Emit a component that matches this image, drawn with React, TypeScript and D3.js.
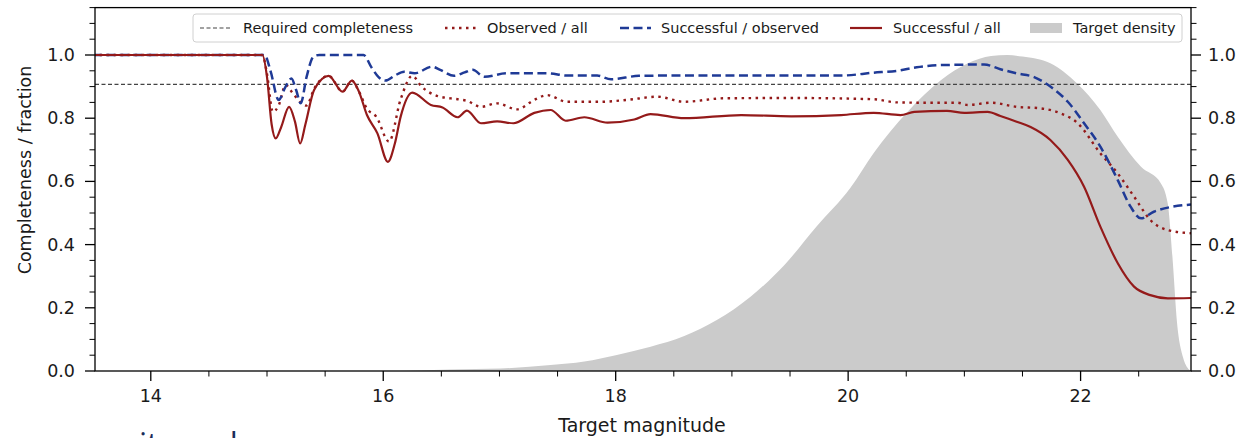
import React from "react";
import * as d3 from "d3";

// Completeness curves versus target magnitude: [magnitude, fraction]
const observedAll: [number, number][] = [
  [13.5, 1.0], [14.96, 1.0], [15.0, 0.94], [15.05, 0.82], [15.1, 0.84], [15.16, 0.905],
  [15.22, 0.88], [15.29, 0.85], [15.34, 0.84], [15.405, 0.893], [15.53, 0.934],
  [15.65, 0.884], [15.73, 0.919], [15.79, 0.885], [15.86, 0.83], [15.94, 0.805],
  [16.05, 0.726], [16.15, 0.86], [16.25, 0.934], [16.33, 0.9], [16.47, 0.87],
  [16.64, 0.86], [16.72, 0.855], [16.84, 0.836], [16.98, 0.847], [17.15, 0.828],
  [17.3, 0.858], [17.41, 0.873], [17.58, 0.852], [17.87, 0.852], [18.1, 0.858],
  [18.36, 0.868], [18.59, 0.852], [18.93, 0.863], [19.5, 0.864], [20.22, 0.86],
  [20.42, 0.85], [20.65, 0.849], [20.94, 0.849], [21.03, 0.842], [21.23, 0.849],
  [21.45, 0.836], [21.66, 0.831], [21.83, 0.815], [21.97, 0.786], [22.17, 0.689],
  [22.32, 0.625], [22.46, 0.552], [22.6, 0.478], [22.75, 0.446], [22.95, 0.436],
];

const successfulObserved: [number, number][] = [
  [13.5, 1.0], [14.98, 1.0], [15.03, 0.95], [15.1, 0.858], [15.16, 0.9], [15.21, 0.926],
  [15.25, 0.89], [15.29, 0.847], [15.34, 0.93], [15.4, 0.995], [15.45, 1.0],
  [15.83, 1.0], [15.9, 0.96], [15.96, 0.93], [16.02, 0.919], [16.1, 0.935],
  [16.18, 0.947], [16.27, 0.942], [16.42, 0.963], [16.49, 0.953], [16.61, 0.934],
  [16.7, 0.945], [16.77, 0.953], [16.87, 0.931], [17.06, 0.942], [17.42, 0.942],
  [17.58, 0.935], [17.84, 0.935], [17.96, 0.923], [18.2, 0.934], [18.5, 0.935],
  [19.94, 0.935], [20.22, 0.944], [20.42, 0.95], [20.59, 0.961], [20.8, 0.968],
  [21.17, 0.97], [21.31, 0.955], [21.45, 0.942], [21.6, 0.93], [21.74, 0.9],
  [21.89, 0.852], [22.03, 0.784], [22.17, 0.71], [22.32, 0.604], [22.43, 0.52],
  [22.52, 0.483], [22.63, 0.504], [22.95, 0.527],
];

const successfulAll: [number, number][] = [
  [13.5, 1.0], [14.96, 1.0], [15.0, 0.93], [15.04, 0.78], [15.075, 0.736], [15.12, 0.77],
  [15.19, 0.836], [15.24, 0.79], [15.285, 0.72], [15.33, 0.78], [15.405, 0.889],
  [15.53, 0.934], [15.65, 0.884], [15.73, 0.919], [15.79, 0.885], [15.86, 0.81],
  [15.95, 0.752], [16.04, 0.662], [16.1, 0.72], [16.15, 0.805], [16.25, 0.881],
  [16.41, 0.842], [16.51, 0.834], [16.64, 0.803], [16.72, 0.824], [16.84, 0.784],
  [16.98, 0.79], [17.12, 0.784], [17.3, 0.817], [17.44, 0.826], [17.57, 0.792],
  [17.73, 0.803], [17.93, 0.786], [18.16, 0.796], [18.3, 0.813], [18.59, 0.8],
  [19.08, 0.81], [19.51, 0.806], [19.94, 0.81], [20.22, 0.817], [20.45, 0.81],
  [20.57, 0.82], [20.85, 0.823], [21.0, 0.817], [21.2, 0.82], [21.31, 0.807],
  [21.45, 0.789], [21.57, 0.772], [21.74, 0.731], [21.89, 0.668], [22.03, 0.583],
  [22.17, 0.457], [22.32, 0.341], [22.46, 0.267], [22.6, 0.24], [22.75, 0.23],
  [22.95, 0.231],
];

// Normalised target density (peak = 1)
const targetDensity: [number, number][] = [
  [13.5, 0], [16.0, 0], [16.58, 0.005], [17.01, 0.008], [17.44, 0.019], [17.73, 0.03],
  [18.01, 0.051], [18.3, 0.077], [18.59, 0.111], [18.87, 0.161], [19.16, 0.235],
  [19.45, 0.335], [19.73, 0.458], [20.02, 0.58], [20.22, 0.69], [20.51, 0.82],
  [20.8, 0.921], [21.03, 0.974], [21.23, 0.997], [21.37, 1.0], [21.5, 0.995],
  [21.74, 0.974], [21.97, 0.91], [22.17, 0.826], [22.32, 0.741], [22.52, 0.646],
  [22.69, 0.594], [22.75, 0.53], [22.79, 0.362], [22.83, 0.152], [22.88, 0.045],
  [22.92, 0.01], [22.95, 0],
];

const requiredCompleteness = 0.907;

const xMajorTicks = [14, 16, 18, 20, 22];
const yMajorTicks = [0, 0.2, 0.4, 0.6, 0.8, 1.0];
const legendLabels = [
  "Required completeness",
  "Observed / all",
  "Successful / observed",
  "Successful / all",
  "Target density",
];

const W = 1252;
const H = 438;
const left = 95;
const right = 1191;
const top = 7.6;
const bottom = 371;

const RED = "#941a1a";
const BLUE = "#1f3a96";
const GREY_FILL = "#cbcbcb";
const FONT = "'DejaVu Sans', sans-serif";
const TEXT = "#1a1a1a";

export default function App() {
  const x = d3.scaleLinear().domain([13.52, 22.95]).range([left, right]);
  const y = d3.scaleLinear().domain([0, 1.15]).range([bottom, top]);

  const line = d3
    .line<[number, number]>()
    .x((d) => x(d[0]))
    .y((d) => y(d[1]))
    .curve(d3.curveMonotoneX);

  const area = d3
    .area<[number, number]>()
    .x((d) => x(d[0]))
    .y0(y(0))
    .y1((d) => y(d[1]))
    .curve(d3.curveMonotoneX);

  const xMinor = d3.range(14.5, 22.95, 0.5).filter((v) => Math.abs(v - Math.round(v / 2) * 2) > 1e-6);
  const yMinor = d3.range(0.05, 1.151, 0.05).filter((v) => Math.abs(v * 5 - Math.round(v * 5)) > 1e-6);

  const legendY = 28;
  const handles = [200, 445, 620, 850, 1030];
  const textX = [243, 487, 661, 893, 1073];

  return (
    <svg
      width={W}
      height={H}
      style={{ position: "absolute", left: 0, top: 0, background: "#fff" }}
      fontFamily={FONT}
    >
      <defs>
        <clipPath id="plot-area">
          <rect x={left} y={top} width={right - left} height={bottom - top} />
        </clipPath>
      </defs>

      <g clipPath="url(#plot-area)">
        <path d={area(targetDensity) ?? ""} fill={GREY_FILL} />
        <line
          x1={left}
          x2={right}
          y1={y(requiredCompleteness)}
          y2={y(requiredCompleteness)}
          stroke="#444"
          strokeWidth={1.1}
          strokeDasharray="4,2.5"
        />
        <path d={line(observedAll) ?? ""} fill="none" stroke={RED} strokeWidth={2.4} strokeDasharray="2.5,4.5" />
        <path d={line(successfulObserved) ?? ""} fill="none" stroke={BLUE} strokeWidth={2.5} strokeDasharray="9,4.5" />
        <path d={line(successfulAll) ?? ""} fill="none" stroke={RED} strokeWidth={2.2} />
      </g>

      {/* frame */}
      <rect x={left} y={top} width={right - left} height={bottom - top} fill="none" stroke="#000" strokeWidth={1.3} />

      {/* x ticks */}
      {xMajorTicks.map((t) => (
        <g key={`xt${t}`}>
          <line x1={x(t)} x2={x(t)} y1={bottom} y2={bottom + 10} stroke="#000" strokeWidth={1.3} />
          <text x={x(t)} y={402} textAnchor="middle" fontSize={17.5} fill={TEXT}>
            {t}
          </text>
        </g>
      ))}
      {xMinor.map((t) => (
        <line key={`xm${t}`} x1={x(t)} x2={x(t)} y1={bottom} y2={bottom + 5.5} stroke="#000" strokeWidth={1} />
      ))}

      {/* y ticks, left and right */}
      {yMajorTicks.map((t) => (
        <g key={`yt${t}`}>
          <line x1={left - 10} x2={left} y1={y(t)} y2={y(t)} stroke="#000" strokeWidth={1.3} />
          <line x1={right} x2={right + 10} y1={y(t)} y2={y(t)} stroke="#000" strokeWidth={1.3} />
          <text x={75} y={y(t)} textAnchor="end" dominantBaseline="central" fontSize={17.5} fill={TEXT}>
            {t.toFixed(1)}
          </text>
          <text x={1208} y={y(t)} textAnchor="start" dominantBaseline="central" fontSize={17.5} fill={TEXT}>
            {t.toFixed(1)}
          </text>
        </g>
      ))}
      {yMinor.map((t) => (
        <g key={`ym${t}`}>
          <line x1={left - 5.5} x2={left} y1={y(t)} y2={y(t)} stroke="#000" strokeWidth={1} />
          <line x1={right} x2={right + 5.5} y1={y(t)} y2={y(t)} stroke="#000" strokeWidth={1} />
        </g>
      ))}

      {/* axis labels */}
      <text x={642} y={432} textAnchor="middle" fontSize={19} fill={TEXT}>
        Target magnitude
      </text>
      <text
        transform="translate(31,170) rotate(-90)"
        textAnchor="middle"
        fontSize={17.5}
        fill={TEXT}
      >
        Completeness / fraction
      </text>

      {/* legend */}
      <rect x={193} y={14} width={989} height={28} rx={3} fill="#fff" fillOpacity={0.85} stroke="#d0d0d0" strokeWidth={1} />
      <line x1={handles[0]} x2={handles[0] + 32} y1={legendY} y2={legendY} stroke="#444" strokeWidth={1.1} strokeDasharray="4,2.5" />
      <line x1={handles[1]} x2={handles[1] + 31} y1={legendY} y2={legendY} stroke={RED} strokeWidth={2.4} strokeDasharray="2.5,4.5" />
      <line x1={handles[2]} x2={handles[2] + 31} y1={legendY} y2={legendY} stroke={BLUE} strokeWidth={2.5} strokeDasharray="9,4.5" />
      <line x1={handles[3]} x2={handles[3] + 32} y1={legendY} y2={legendY} stroke={RED} strokeWidth={2.2} />
      <rect x={handles[4]} y={legendY - 5} width={32} height={10} fill={GREY_FILL} />
      {legendLabels.map((label, i) => (
        <text key={label} x={textX[i]} y={legendY} dominantBaseline="central" fontSize={14.5} fill={TEXT}>
          {label}
        </text>
      ))}

      {/* continuation of the surrounding page text, cut off at the bottom edge */}
      <text x={139} y={456} fontSize={32} fill="#1b2d5b" fontFamily="'Open Sans', sans-serif">
        <tspan>it </tspan>
        <tspan dx={14}>and</tspan>
      </text>
    </svg>
  );
}
